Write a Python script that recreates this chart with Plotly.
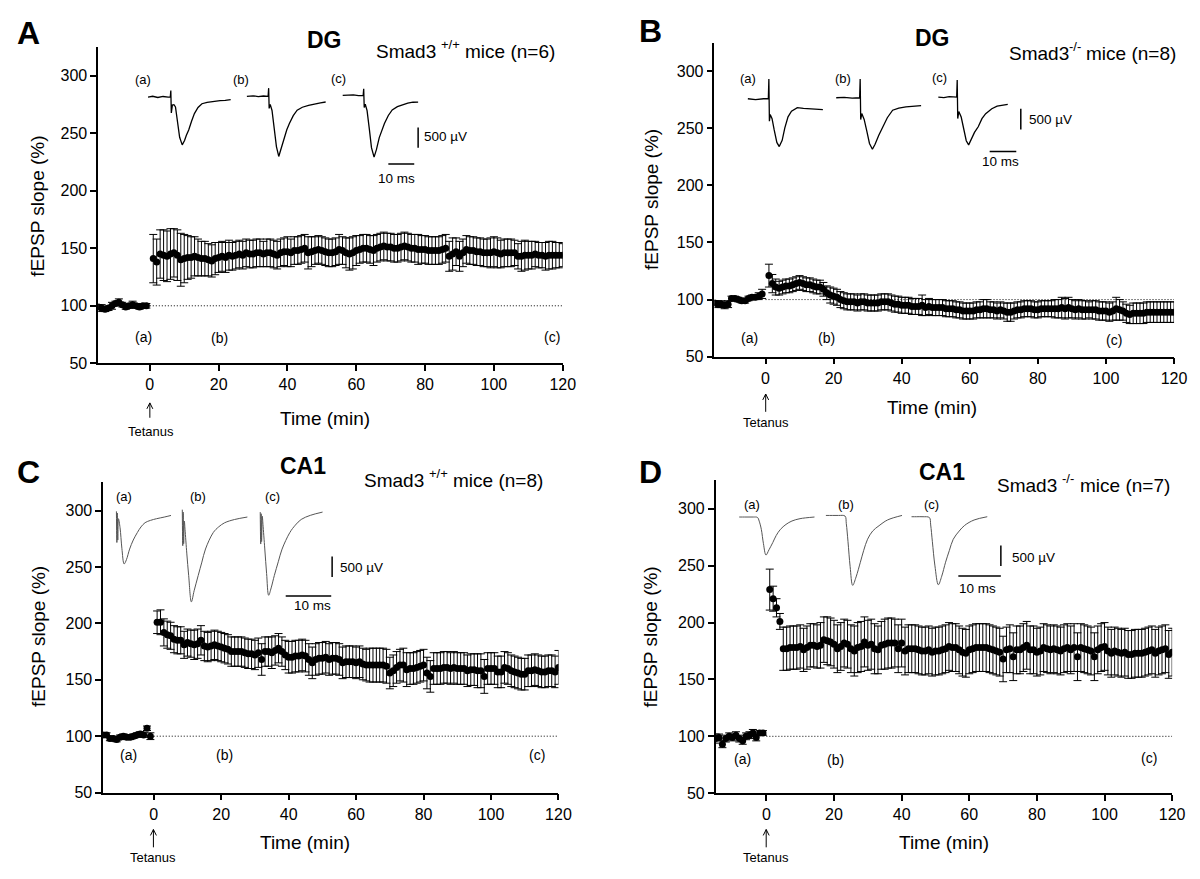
import plotly.graph_objects as go

W, H = 1200, 879
FONT = "Liberation Sans, Arial, sans-serif"

# ---------------- data ----------------
base_t = list(range(-15, 0))
post_t = list(range(1, 121))
XTICKS = [0, 20, 40, 60, 80, 100, 120]
YTICKS = [50, 100, 150, 200, 250, 300]

A_base = [99, 98, 97, 98, 100, 102, 103, 101, 99, 100, 101, 100, 99, 100, 100]
A_base_err = [2, 3, 2, 2, 3, 2, 3, 2, 2, 2, 3, 2, 2, 2, 2]
A_post = [141, 138, 145, 144, 143, 145, 146, 144, 140, 141,
          142, 142, 143, 142, 141, 141, 140, 139, 141, 142,
          143, 142, 144, 143, 144, 145, 144, 146, 145, 145,
          146, 146, 145, 146, 146, 145, 144, 146, 147, 147,
          146, 148, 148, 149, 150, 146, 147, 148, 149, 148,
          147, 146, 146, 147, 149, 148, 146, 145, 146, 148,
          149, 150, 150, 149, 148, 150, 151, 152, 151, 151,
          150, 150, 151, 152, 151, 150, 150, 149, 149, 149,
          148, 148, 148, 148, 149, 150, 143, 145, 147, 143,
          146, 149, 148, 148, 147, 147, 146, 146, 146, 147,
          146, 145, 146, 146, 146, 146, 143, 143, 144, 144,
          144, 145, 144, 144, 143, 144, 144, 144, 144, 144]
A_post_err = [21, 20, 21, 22, 22, 22, 21, 22, 23, 21,
              19, 18, 17, 16, 15, 15, 14, 14, 14, 13,
              13, 13, 13, 12, 12, 12, 12, 12, 12, 12,
              12, 12, 11, 12, 12, 12, 12, 12, 12, 13,
              12, 12, 12, 12, 12, 14, 13, 12, 12, 12,
              12, 12, 12, 12, 13, 12, 13, 14, 14, 13,
              12, 12, 12, 12, 13, 12, 12, 12, 12, 12,
              12, 12, 12, 12, 12, 12, 12, 13, 12, 12,
              12, 12, 12, 12, 12, 12, 13, 14, 12, 13,
              12, 12, 12, 12, 12, 12, 12, 12, 13, 13,
              13, 12, 12, 12, 12, 11, 11, 13, 13, 12,
              12, 11, 11, 11, 12, 12, 12, 11, 11, 10]

B_base = [97, 96, 96, 95, 96, 101, 101, 100, 99, 99, 101, 102, 102, 103, 105]
B_base_err = [2, 3, 3, 3, 3, 2, 2, 2, 2, 2, 2, 2, 2, 3, 4]
B_post = [121, 114, 111, 110, 111, 112, 112, 113, 114, 115,
          114, 113, 113, 112, 111, 111, 109, 106, 104, 103,
          102, 100, 99, 98, 98, 98, 97, 98, 98, 97,
          97, 97, 97, 98, 98, 98, 97, 96, 96, 95,
          95, 95, 94, 94, 94, 95, 93, 94, 93, 93,
          93, 93, 92, 92, 92, 91, 91, 90, 90, 90,
          90, 91, 91, 92, 92, 91, 91, 90, 91, 90,
          89, 89, 90, 91, 91, 92, 92, 92, 91, 91,
          92, 92, 92, 92, 92, 92, 93, 92, 93, 92,
          91, 92, 91, 91, 91, 91, 91, 90, 90, 90,
          89, 90, 92, 91, 90, 88, 87, 88, 88, 88,
          88, 89, 89, 89, 89, 89, 89, 89, 89, 89]
B_post_err = [10, 8, 7, 6, 6, 6, 6, 6, 6, 6,
              6, 6, 6, 6, 6, 6, 6, 6, 7, 7,
              7, 7, 7, 7, 7, 7, 7, 7, 7, 7,
              7, 7, 7, 7, 7, 7, 7, 7, 7, 7,
              7, 7, 7, 7, 7, 9, 7, 7, 7, 7,
              7, 7, 7, 7, 7, 7, 7, 7, 7, 7,
              7, 7, 7, 8, 8, 7, 7, 7, 7, 7,
              8, 8, 7, 7, 7, 7, 7, 7, 7, 7,
              7, 7, 7, 7, 8, 8, 9, 9, 9, 8,
              8, 8, 8, 8, 7, 8, 8, 8, 8, 8,
              8, 8, 10, 9, 8, 8, 8, 9, 9, 9,
              9, 9, 9, 9, 9, 9, 9, 9, 9, 9]

C_base = [101, 101, 98, 98, 97, 99, 100, 99, 99, 100, 101, 102, 101, 107, 100]
C_base_err = [2, 2, 2, 2, 2, 2, 2, 2, 2, 2, 2, 2, 2, 2, 3]
C_post = [201, 201, 192, 190, 189, 186, 185, 185, 181, 183,
          182, 181, 182, 185, 180, 179, 180, 181, 180, 179,
          178, 177, 175, 175, 175, 175, 174, 173, 173, 172,
          174, 168, 175, 175, 174, 176, 178, 175, 172, 170,
          170, 171, 171, 172, 171, 168, 165, 168, 169, 169,
          170, 168, 169, 169, 168, 165, 166, 166, 166, 165,
          166, 164, 163, 163, 163, 163, 163, 163, 162, 156,
          158, 161, 163, 163, 159, 160, 160, 161, 162, 163,
          156, 153, 160, 160, 160, 161, 161, 160, 161, 160,
          160, 160, 158, 159, 159, 158, 158, 153, 160, 160,
          160, 157, 157, 161, 160, 158, 157, 156, 155, 155,
          158, 158, 159, 158, 157, 157, 158, 158, 157, 161]
C_post_err = [10, 11, 12, 12, 12, 12, 12, 12, 12, 12,
              12, 13, 13, 13, 13, 13, 13, 13, 13, 13,
              13, 13, 13, 13, 13, 13, 13, 13, 13, 13,
              13, 14, 13, 13, 14, 13, 13, 13, 13, 14,
              14, 14, 14, 14, 14, 14, 14, 14, 14, 14,
              14, 14, 14, 14, 14, 14, 14, 14, 14, 14,
              14, 14, 14, 15, 15, 15, 15, 15, 15, 14,
              14, 14, 14, 15, 15, 14, 14, 14, 14, 14,
              14, 14, 14, 14, 14, 14, 14, 14, 14, 14,
              14, 14, 14, 14, 14, 15, 15, 15, 14, 14,
              14, 14, 14, 14, 14, 14, 14, 14, 14, 14,
              14, 14, 14, 14, 14, 14, 14, 14, 14, 15]

D_base = [98, 99, 93, 98, 100, 99, 101, 98, 96, 100, 101, 103, 99, 103, 103]
D_base_err = [4, 3, 3, 3, 3, 3, 3, 3, 3, 3, 3, 3, 3, 2, 2]
D_post = [229, 221, 213, 201, 177, 177, 178, 178, 178, 179,
          176, 178, 180, 180, 179, 180, 185, 184, 183, 181,
          177, 179, 182, 181, 177, 175, 178, 179, 183, 180,
          181, 177, 176, 180, 181, 182, 182, 182, 177, 182,
          175, 177, 177, 177, 176, 175, 175, 176, 174, 175,
          175, 176, 177, 179, 178, 178, 176, 174, 173, 176,
          177, 178, 178, 178, 178, 177, 176, 175, 174, 168,
          176, 177, 170, 176, 176, 178, 180, 176, 176, 174,
          175, 178, 177, 176, 177, 176, 175, 177, 178, 176,
          178, 170, 178, 177, 176, 175, 170, 176, 178, 179,
          175, 173, 175, 174, 173, 174, 172, 172, 173, 173,
          173, 174, 175, 176, 173, 175, 176, 177, 172, 174]
D_post_err = [18, 11, 8, 7, 19, 19, 19, 19, 19, 19,
              19, 19, 19, 19, 19, 20, 20, 21, 21, 21,
              21, 21, 21, 21, 21, 22, 22, 22, 22, 22,
              22, 22, 21, 21, 22, 22, 22, 21, 21, 21,
              21, 21, 21, 21, 21, 21, 21, 21, 21, 21,
              21, 21, 21, 21, 21, 21, 21, 21, 21, 21,
              21, 21, 21, 21, 21, 21, 21, 21, 21, 20,
              20, 21, 21, 21, 21, 21, 21, 21, 21, 21,
              21, 21, 21, 21, 21, 21, 21, 21, 21, 21,
              21, 21, 21, 21, 21, 21, 21, 21, 21, 21,
              21, 21, 21, 21, 21, 21, 21, 21, 21, 21,
              21, 21, 21, 21, 21, 21, 21, 21, 21, 21]

# inset fEPSP traces: time (ms, 0 = stimulus) and voltage (uV)
A_a_t = [-8.8, -7, -5, -3, -1, -0.2, 0, 0.2, 0.6, 1.2, 1.8, 2.6, 3.4, 4.4, 5.3, 6.0, 6.9, 8.0, 9.1, 10.5, 12.0, 14, 16.5, 19, 21, 23.1]
A_a_v = [0, 20, -10, 15, 0, 0, 165, -394, -200, -190, -246, -600, -1000, -1190, -1080, -950, -820, -600, -410, -260, -165, -130, -105, -90, -80, -65]
A_b_t = [-8.4, -6, -4, -2, -0.2, 0, 0.2, 0.6, 1.3, 2.2, 3.0, 3.9, 4.8, 6.0, 7.0, 8.0, 9.5, 11, 13, 15.4, 18, 20, 22]
A_b_v = [0, 15, -5, 10, 0, 205, -300, -200, -350, -800, -1250, -1495, -1300, -1000, -830, -675, -480, -345, -270, -222, -180, -160, -140]
A_c_t = [-8.1, -6, -4, -2, -0.2, 0, 0.2, 0.6, 1.3, 2.2, 3.0, 4.0, 4.9, 6.0, 7.0, 8.0, 9.5, 11, 13, 15, 17, 19, 21]
A_c_v = [0, 10, 15, -5, 0, 163, -300, -220, -380, -850, -1300, -1537, -1350, -1050, -860, -700, -500, -360, -280, -230, -190, -170, -165]

B_a_t = [-7.9, -5, -2, -0.2, 0, 0.2, 0.5, 1.2, 2.0, 3.0, 3.9, 5.0, 6.0, 7.2, 8.5, 10.7, 13, 16, 20.3]
B_a_v = [0, -20, 0, 0, 476, -540, -380, -480, -750, -1050, -1150, -1000, -700, -436, -300, -214, -230, -250, -262]
B_b_t = [-9, -6, -3, -0.2, 0, 0.2, 0.6, 1.5, 2.5, 3.5, 4.6, 5.6, 7.0, 8.6, 10.2, 12.2, 14.5, 17.2, 20, 22.9]
B_b_v = [0, 10, -10, 0, 452, -524, -380, -520, -800, -1100, -1238, -1120, -900, -698, -480, -300, -250, -220, -200, -190]
B_c_t = [-7.1, -5, -3, -0.2, 0, 0.2, 0.6, 1.5, 2.5, 3.4, 4.3, 5.3, 6.5, 7.9, 9.3, 10.7, 13, 15, 17, 19]
B_c_v = [0, -15, 10, 0, 412, -516, -350, -480, -780, -1050, -1150, -1020, -850, -714, -520, -400, -280, -220, -190, -174]

C_a_t = [0, 0.1, 0.2, 0.3, 0.45, 0.8, 1.2, 1.7, 2.2, 2.9, 3.7, 4.6, 5.4, 6.3, 7.5, 8.8, 10.5, 12]
C_a_v = [100, -660, 60, -600, -80, -300, -800, -1183, -1080, -821, -600, -418, -280, -176, -120, -80, -40, 0]
C_b_t = [0, 0.1, 0.2, 0.3, 0.45, 0.6, 1.0, 1.4, 2.0, 2.6, 3.5, 4.3, 5.1, 6.8, 8.0, 9.3, 11.5, 14.3]
C_b_v = [180, -700, 120, -650, -100, -300, -900, -1425, -2070, -1800, -1425, -1100, -780, -380, -240, -140, -60, 0]
C_c_t = [0, 0.1, 0.2, 0.3, 0.45, 0.6, 1.0, 1.4, 1.85, 2.4, 3.1, 4.0, 4.8, 6.5, 7.7, 9.0, 11, 13.7]
C_c_v = [0, -780, -40, -720, -100, -300, -900, -1500, -2030, -1850, -1546, -1200, -903, -500, -320, -180, -80, 0]

D_a_t = [-4.3, -3, -2, -1, 0, 0.4, 0.9, 1.4, 2.0, 2.7, 3.6, 4.4, 5.4, 6.7, 8.1, 10, 13.4]
D_a_v = [0, 0, 0, 0, -10, -100, -300, -650, -928, -800, -622, -450, -300, -180, -97, -40, 0]
D_b_t = [-4.5, -3, -1.5, 0, 0.3, 0.7, 1.2, 1.8, 2.6, 3.6, 4.4, 5.3, 6.5, 8.0, 10, 13.4]
D_b_v = [0, 0, 0, -15, -200, -640, -1250, -1705, -1500, -1143, -850, -580, -380, -250, -110, 0]
D_c_t = [-4.2, -3, -1.5, 0, 0.3, 0.7, 1.3, 2.1, 2.9, 3.8, 4.7, 5.6, 7.0, 8.3, 10.5, 13.6]
D_c_v = [0, 0, 0, -20, -200, -610, -1200, -1660, -1450, -1110, -820, -550, -350, -210, -80, 0]

SCALE_MS = 10
SCALE_UV = 500

# ---------------- layout geometry (pixels) ----------------
panels = [
    dict(base=A_base, berr=A_base_err, post=A_post, perr=A_post_err,
         px=(91.2, 560.8), py=(39.3, 359.0),
         waves=[(A_a_t, A_a_v, 164.6, 90.0), (A_b_t, A_b_v, 263.5, 89.3), (A_c_t, A_c_v, 359.6, 88.3)],
         ppm=2.62, ppu=0.0406, tr=(-10, 26), wcol='black', ww=1.3, wshape='linear',
         vbar=(21.0, -800), hbar=(9.5, -1709)),
    dict(base=B_base, berr=B_base_err, post=B_post, perr=B_post_err,
         px=(714.2, 1178.8), py=(35.0, 352.3),
         waves=[(B_a_t, B_a_v, 769.2, 91.7), (B_b_t, B_b_v, 861.5, 90.7), (B_c_t, B_c_v, 959.6, 90.0)],
         ppm=2.69, ppu=0.042, tr=(-10, 26), wcol='black', ww=1.3, wshape='linear',
         vbar=(23.9, -279), hbar=(12.2, -1310)),
    dict(base=C_base, berr=C_base_err, post=C_post, perr=C_post_err,
         px=(96.2, 556.5), py=(479.3, 792.7),
         waves=[(C_a_t, C_a_v, 109.6, 512.7), (C_b_t, C_b_v, 176.2, 514.3), (C_c_t, C_c_v, 255.0, 509.3)],
         ppm=4.6, ppu=0.0414, tr=(-5, 18), wcol='#555555', ww=1.0, wshape='spline',
         vbar=(15.8, -1087), hbar=(5.6, -2046)),
    dict(base=D_base, berr=D_base_err, post=D_post, perr=D_post_err,
         px=(715.4, 1176.9), py=(477.3, 793.3),
         waves=[(D_a_t, D_a_v, 757.7, 514.3), (D_b_t, D_b_v, 846.2, 512.7), (D_c_t, D_c_v, 931.5, 514.0)],
         ppm=4.3, ppu=0.0414, tr=(-5, 18), wcol='#555555', ww=1.0, wshape='spline',
         vbar=(16.8, -700), hbar=(6.8, -1449)),
]
VR = (-2400, 700)


def fx(px):
    return px / W


def fy(py):
    return 1 - py / H


fig = go.Figure()
layout = dict(width=W, height=H, margin=dict(l=0, r=0, t=0, b=0),
              paper_bgcolor='white', plot_bgcolor='rgba(0,0,0,0)',
              showlegend=False, font=dict(family=FONT, color='black'))
shapes = []
annotations = []

inset_idx = 5
for i, p in enumerate(panels, start=1):
    sfx = '' if i == 1 else str(i)
    xref, yref = 'x' + sfx, 'y' + sfx
    layout['xaxis' + sfx] = dict(
        domain=[fx(p['px'][0]), fx(p['px'][1])], range=[-15, 120], anchor=yref,
        tickvals=XTICKS, showline=True, linecolor='black', linewidth=1.5,
        ticks='outside', ticklen=6, tickwidth=1.5, tickcolor='black',
        showgrid=False, zeroline=False, tickfont=dict(size=16, family=FONT, color='black'),
        fixedrange=True)
    layout['yaxis' + sfx] = dict(
        domain=[fy(p['py'][1]), fy(p['py'][0])], range=[50, 325], anchor=xref,
        tickvals=YTICKS, showline=True, linecolor='black', linewidth=1.5,
        ticks='outside', ticklen=6, tickwidth=1.5, tickcolor='black',
        showgrid=False, zeroline=False, tickfont=dict(size=16, family=FONT, color='black'),
        fixedrange=True)

    fig.add_trace(go.Scatter(
        x=base_t + post_t, y=p['base'] + p['post'], mode='markers',
        marker=dict(size=7, color='black'),
        error_y=dict(type='data', array=p['berr'] + p['perr'], visible=True,
                     color='black', thickness=1, width=4),
        xaxis=xref, yaxis=yref, hoverinfo='skip'))

    shapes.append(dict(type='line', xref=xref, yref=yref, x0=0, x1=120, y0=100, y1=100,
                       line=dict(color='black', width=1, dash='1px,2px')))

    # inset traces
    for k, (tt, vv, xa, yb) in enumerate(p['waves']):
        s = str(inset_idx)
        ppm, ppu = p['ppm'], p['ppu']
        layout['xaxis' + s] = dict(
            domain=[fx(xa + p['tr'][0] * ppm), fx(xa + p['tr'][1] * ppm)],
            range=list(p['tr']), anchor='y' + s, visible=False, fixedrange=True)
        layout['yaxis' + s] = dict(
            domain=[fy(yb - VR[0] * ppu), fy(yb - VR[1] * ppu)],
            range=list(VR), anchor='x' + s, visible=False, fixedrange=True)
        fig.add_trace(go.Scatter(
            x=tt, y=vv, mode='lines', line=dict(color=p['wcol'], width=p['ww'], shape=p['wshape']),
            xaxis='x' + s, yaxis='y' + s, hoverinfo='skip'))
        if k == 2:
            vt, vtop = p['vbar']
            shapes.append(dict(type='line', xref='x' + s, yref='y' + s, x0=vt, x1=vt,
                               y0=vtop, y1=vtop - SCALE_UV, line=dict(color='black', width=1.5)))
            ht, hv = p['hbar']
            shapes.append(dict(type='line', xref='x' + s, yref='y' + s, x0=ht, x1=ht + SCALE_MS,
                               y0=hv, y1=hv, line=dict(color='black', width=1.5)))
        inset_idx += 1


def txt(text, px, py, size, bold=False, angle=0, xanchor='center'):
    font = dict(size=size, family=FONT, color='black')
    if bold:
        font['weight'] = 'bold'
    annotations.append(dict(text=text, x=fx(px), y=fy(py), xref='paper', yref='paper',
                            showarrow=False, xanchor=xanchor, yanchor='middle', textangle=angle,
                            font=font))


def genotype(sup, n, x_left, y, sup_gap):
    # "Smad3" + superscript genotype + "mice (n=..)" as three plain texts
    txt('Smad3', x_left, y, 19, xanchor='left')
    sx = x_left + 60.5 + sup_gap
    txt(sup, sx, y - 7, 13, xanchor='left')
    sup_w = {'+/+': 18.8, '-/-': 12.3}[sup]
    txt('mice (n={})'.format(n), sx + sup_w + 5.3, y, 19, xanchor='left')


def arrow(px, ptip, ptail):
    shapes.append(dict(type='line', xref='paper', yref='paper',
                       x0=fx(px), x1=fx(px), y0=fy(ptail), y1=fy(ptip),
                       line=dict(color='black', width=1)))
    path = 'M {} {} L {} {} L {} {}'.format(fx(px - 3), fy(ptip + 6), fx(px), fy(ptip),
                                            fx(px + 3), fy(ptip + 6))
    shapes.append(dict(type='path', xref='paper', yref='paper', path=path,
                       line=dict(color='black', width=1)))


texts = [
    # panel A
    ('A', 21, 25, 32, True), ('DG', 320, 32, 23, True),
    ('Time (min)', 320, 415, 19, False), ('Tetanus', 145, 428, 13, False),
    ('(a)', 136.5, 332.7, 14, False), ('(b)', 213.5, 333, 14, False), ('(c)', 550, 332.7, 14, False),
    ('(a)', 136.5, 72.7, 13, False), ('(b)', 235.8, 72.7, 13, False), ('(c)', 333.8, 71.7, 13, False),
    ('500 µV', 442.3, 130, 13.5, False), ('10 ms', 393, 172.3, 13.5, False),
    # panel B
    ('B', 650, 23.3, 32, True), ('DG', 934.6, 30, 23, True),
    ('Time (min)', 934.6, 403.3, 19, False), ('Tetanus', 766, 418.3, 13, False),
    ('(a)', 750, 333.3, 14, False), ('(b)', 827, 333.3, 14, False), ('(c)', 1118, 335, 14, False),
    ('(a)', 748, 71.7, 13, False), ('(b)', 844.2, 71.7, 13, False), ('(c)', 941.5, 70, 13, False),
    ('500 µV', 1053.8, 112.7, 13.5, False), ('10 ms', 1003.8, 155, 13.5, False),
    # panel C
    ('C', 21, 468.3, 32, True), ('CA1', 298, 462.7, 23, True),
    ('Time (min)', 300, 843.3, 19, False), ('Tetanus', 147, 858.3, 13, False),
    ('(a)', 122.3, 754.3, 14, False), ('(b)', 218.5, 754.3, 14, False), ('(c)', 534.6, 754.3, 14, False),
    ('(a)', 117.3, 493.3, 13, False), ('(b)', 192.3, 493.3, 13, False), ('(c)', 267.3, 493.3, 13, False),
    ('500 µV', 357.7, 565.7, 13.5, False), ('10 ms', 307.7, 604, 13.5, False),
    # panel D
    ('D', 650, 468.3, 32, True), ('CA1', 944.2, 468.3, 23, True),
    ('Time (min)', 946, 843.3, 19, False), ('Tetanus', 766.5, 858.3, 13, False),
    ('(a)', 743, 758.3, 14, False), ('(b)', 836.5, 760, 14, False), ('(c)', 1153.8, 757.3, 14, False),
    ('(a)', 751.9, 501.7, 13, False), ('(b)', 847.3, 501.7, 13, False), ('(c)', 933.8, 501.7, 13, False),
    ('500 µV', 1036.5, 555, 13.5, False), ('10 ms', 980, 586, 13.5, False),
]
for t, x, y, s, b in texts:
    txt(t, x, y, s, b)

genotype('+/+', 6, 369.6, 44, 5.3)
genotype('-/-', 8, 1010.0, 46, 0.0)
genotype('+/+', 8, 358.0, 477, 5.3)
genotype('-/-', 7, 997.9, 482, 5.3)

for x, y in [(30, 200), (650, 193), (30.8, 635), (650, 635)]:
    txt('fEPSP slope (%)', x, y, 19, angle=-90)

for x, tip, tail in [(143.4, 399, 414), (766, 390, 408), (147, 830, 848), (766.5, 830, 848)]:
    arrow(x, tip, tail)

layout['shapes'] = shapes
layout['annotations'] = annotations
fig.update_layout(**layout)
fig.write_html("out.html")
